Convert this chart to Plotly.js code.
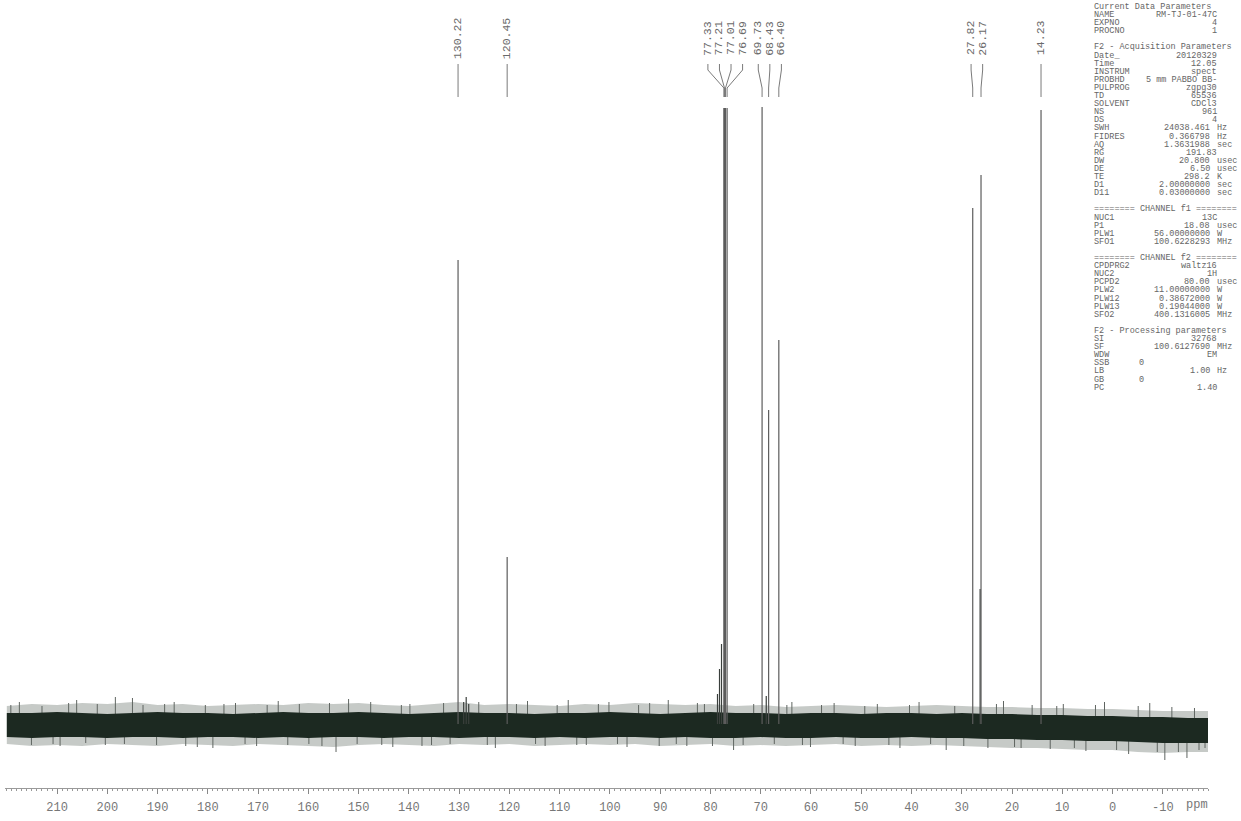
<!DOCTYPE html>
<html><head><meta charset="utf-8">
<script src="https://cdn.plot.ly/plotly-3.0.1.min.js"></script>
<style>html,body{margin:0;padding:0;background:#fff}#chart{width:1241px;height:821px}</style>
</head><body><div id="chart"></div><script>
// ---- peak data (ppm, intensity above baseline, label) ----
const peakPPM    = [130.22, 120.45, 77.33, 77.21, 77.01, 76.69, 69.73, 68.43, 66.40, 27.82, 26.17, 14.23];
const peakHeight = [464, 167, 616, 616, 616, 616, 617, 314, 384, 516, 549, 614];
const peakLabels = ["130.22","120.45","77.33","77.21","77.01","76.69","69.73","68.43","66.40","27.82","26.17","14.23"];

// small unlabelled features near the baseline
const minorPPM    = [129.1, 128.6, 128.1, 78.6, 78.2, 77.8, 26.35, 68.9];
const minorHeight = [22, 27, 20, 30, 55, 80, 135, 28];

// baseline noise envelope (estimated)
const envPPM   = [220,215,210,205,200,195,190,185,180,175,170,165,160,155,150,145,140,135,130,125,120,115,110,105,100,95,90,85,80,75,70,65,60,55,50,45,40,35,30,25,20,15,10,5,0,-5,-10,-15,-20];
const coreUp   = [11,11,12,11,10,11,12,11,11,10,11,12,11,11,12,11,10,11,12,11,11,10,11,11,12,11,10,11,12,11,11,10,11,11,10,11,11,10,11,10,10,9,9,8,8,7,7,6,6];
const coreLo   = [-13,-14,-13,-13,-14,-13,-13,-14,-13,-13,-14,-13,-14,-13,-13,-14,-13,-13,-14,-13,-13,-14,-13,-14,-13,-13,-14,-13,-14,-14,-13,-14,-14,-13,-14,-14,-13,-14,-14,-15,-15,-16,-16,-17,-17,-18,-19,-19,-19];
const fringeUp = [18,20,19,21,20,22,19,20,18,19,20,19,21,20,21,19,18,20,22,19,20,19,18,20,19,21,20,19,20,18,19,17,18,19,18,17,18,19,18,17,17,16,16,15,15,14,13,13,13];
const fringeLo = [-20,-22,-21,-22,-20,-21,-22,-20,-21,-22,-20,-21,-22,-23,-21,-20,-21,-22,-20,-21,-20,-22,-21,-20,-21,-20,-22,-21,-20,-22,-21,-22,-21,-20,-22,-21,-22,-21,-22,-23,-24,-24,-25,-26,-26,-28,-29,-28,-28];

// prominent noise spikes (estimated)
const spikePPM = [219.2,217.5,215.1,213.0,210.8,209.4,207.7,206.1,204.3,202.0,200.4,198.4,196.6,195.0,192.9,190.2,188.6,186.7,184.4,182.1,180.5,179.0,176.8,174.5,172.6,170.3,168.2,166.0,164.1,161.8,159.9,157.3,155.8,154.5,152.0,150.3,147.6,145.4,143.2,141.5,139.8,137.4,135.5,133.1,131.8,126.1,124.4,122.8,118.6,116.4,114.8,112.9,110.5,108.3,106.6,104.7,102.3,100.2,98.5,96.6,94.3,92.1,90.2,88.4,86.8,84.7,82.6,81.2,79.6,75.4,73.5,71.4,67.3,64.8,63.8,61.7,60.1,57.9,55.4,53.6,51.2,49.3,46.8,44.5,42.3,40.4,38.5,36.2,33.1,31.4,29.6,24.8,23.1,21.7,19.5,18.2,16.0,12.4,11.1,9.8,7.6,5.3,3.4,1.6,-0.8,-3.2,-5.1,-7.4,-8.9,-10.4,-11.8,-13.1,-14.8,-16.3,-17.2,-18.4];
const spikeVal = [19,22,-21,18,-20,-22,21,24,-19,20,-21,27,-20,26,19,-21,20,22,-22,-23,19,-24,20,21,-20,-22,19,23,-21,20,-20,-22,21,-28,25,-20,22,-21,-23,19,20,-22,-21,21,-20,22,-21,-24,20,23,-20,-22,19,24,-21,-21,20,22,-20,-23,19,21,-22,24,-20,-22,21,20,-22,-26,-21,20,-20,19,22,-21,-23,19,21,-20,-22,18,20,-21,-24,19,22,-20,-26,18,-22,-24,20,23,-23,-24,19,-25,18,20,-24,-27,19,22,-26,-30,18,21,-28,-36,17,-28,-34,16,-26,-24];

// axis tick labels
const tickValues = [210,200,190,180,170,160,150,140,130,120,110,100,90,80,70,60,50,40,30,20,10,0,-10];
const tickLabels = ["210","200","190","180","170","160","150","140","130","120","110","100","90","80","70","60","50","40","30","20","10","0","-10"];

// acquisition / processing parameter panel
const paramNames  = ["Current Data Parameters","NAME","EXPNO","PROCNO","","F2 - Acquisition Parameters","Date_","Time","INSTRUM","PROBHD","PULPROG","TD","SOLVENT","NS","DS","SWH","FIDRES","AQ","RG","DW","DE","TE","D1","D11","","======== CHANNEL f1 ========","NUC1","P1","PLW1","SFO1","","======== CHANNEL f2 ========","CPDPRG2","NUC2","PCPD2","PLW2","PLW12","PLW13","SFO2","","F2 - Processing parameters","SI","SF","WDW","SSB","LB","GB","PC"];
const paramValues = ["","RM-TJ-01-47C","4","1","","","20120329","12.05","spect","5 mm PABBO BB-","zgpg30","65536","CDCl3","961","4","24038.461","0.366798","1.3631988","191.83","20.800","6.50","298.2","2.00000000","0.03000000","","","13C","18.08","56.00000000","100.6228293","","","waltz16","1H","80.00","11.00000000","0.38672000","0.19044000","400.1316005","","","32768","100.6127690","EM","0","1.00","0","1.40"];
const paramUnits  = ["","","","","","","","","","","","","","","","Hz","Hz","sec","","usec","usec","K","sec","sec","","","","usec","W","MHz","","","","","usec","W","W","W","MHz","","","","MHz","","","Hz","",""];

// ---- geometry helpers ----
const W = 1241, H = 821, ML = 5, MR = 33, MT = 0, MB = 33;
const PW = W - ML - MR, PH = H - MT - MB;
const px2paperX = p => (p - ML) / PW;
const px2paperY = p => (H - MB - p) / PH;

// ---- traces ----
function segs(xs, ys) {
  const X = [], Y = [];
  xs.forEach((x, i) => { X.push(x, x, null); Y.push(0, ys[i], null); });
  return {X, Y};
}
function band(up, lo) {
  const X = envPPM.concat(envPPM.slice().reverse());
  const Y = up.concat(lo.slice().reverse());
  return {X, Y};
}
const fr = band(fringeUp, fringeLo);
const co = band(coreUp, coreLo);
const sp = segs(spikePPM, spikeVal);
const mn = segs(minorPPM, minorHeight);
const pk = segs(peakPPM, peakHeight);

const traces = [
  {x: fr.X, y: fr.Y, type: 'scatter', mode: 'lines', fill: 'toself', fillcolor: 'rgba(120,128,122,0.42)', line: {width: 0}, hoverinfo: 'skip'},
  {x: sp.X, y: sp.Y, type: 'scatter', mode: 'lines', line: {color: '#5f6561', width: 1}, hoverinfo: 'skip'},
  {x: co.X, y: co.Y, type: 'scatter', mode: 'lines', fill: 'toself', fillcolor: '#1c2921', line: {width: 0}, hoverinfo: 'skip'},
  {x: mn.X, y: mn.Y, type: 'scatter', mode: 'lines', line: {color: '#3a3f3c', width: 1.2}, hoverinfo: 'skip'},
  {x: pk.X, y: pk.Y, type: 'scatter', mode: 'lines', line: {color: '#5c5c5c', width: 1.2}, hoverinfo: 'skip'}
];

// ---- label placement (spread overlapping labels) ----
const LABEL_GAP = 2.3; // ppm
function spreadLabels(pos) {
  let groups = pos.map((p, i) => ({idx: [i], c: p}));
  let changed = true;
  while (changed) {
    changed = false;
    for (let g = 0; g < groups.length - 1; g++) {
      const a = groups[g], b = groups[g + 1];
      const aEnd = a.c - (a.idx.length - 1) * LABEL_GAP / 2;
      const bStart = b.c + (b.idx.length - 1) * LABEL_GAP / 2;
      if (aEnd - bStart < LABEL_GAP - 1e-9) {
        const idx = a.idx.concat(b.idx);
        const c = idx.reduce((s, i) => s + pos[i], 0) / idx.length;
        groups.splice(g, 2, {idx, c});
        changed = true;
        break;
      }
    }
  }
  const out = [];
  groups.forEach(g => g.idx.forEach((i, k) => {
    out[i] = g.c + ((g.idx.length - 1) / 2 - k) * LABEL_GAP;
  }));
  return out;
}
const labelPos = spreadLabels(peakPPM);

const annotations = [];
const shapes = [];
const lineCol = '#7a7a7a';
peakPPM.forEach((p, i) => {
  annotations.push({
    x: labelPos[i], xref: 'x', y: px2paperY(38), yref: 'paper',
    text: peakLabels[i], textangle: -90, showarrow: false,
    font: {family: 'Liberation Mono, monospace', size: 11.5, color: '#6a6a6a'},
    xanchor: 'center', yanchor: 'middle'
  });
  const pts = [[labelPos[i], 64], [labelPos[i], 70], [p, 88], [p, 97]];
  for (let k = 0; k < pts.length - 1; k++) {
    shapes.push({type: 'line', xref: 'x', yref: 'paper',
      x0: pts[k][0], y0: px2paperY(pts[k][1]), x1: pts[k + 1][0], y1: px2paperY(pts[k + 1][1]),
      line: {color: lineCol, width: 1}});
  }
});

// ppm unit label
annotations.push({x: px2paperX(1197), xref: 'paper', y: px2paperY(805), yref: 'paper',
  text: 'ppm', showarrow: false, xanchor: 'center', yanchor: 'middle',
  font: {family: 'Liberation Mono, monospace', size: 12, color: '#777'}});

// parameter panel
const pf = {family: 'Liberation Mono, monospace', size: 8.5, color: '#666'};
const ROW0 = 7, ROWH = 8.1;
paramNames.forEach((n, i) => {
  if (!n) return;
  const y = px2paperY(ROW0 + i * ROWH);
  const header = !paramValues[i];
  annotations.push({x: px2paperX(1092), xref: 'paper', y, yref: 'paper', text: n,
    showarrow: false, xanchor: 'left', yanchor: 'middle', font: pf});
  if (header) return;
  const v = paramValues[i], u = paramUnits[i];
  if (n === 'SSB' || n === 'GB') {
    annotations.push({x: px2paperX(1137), xref: 'paper', y, yref: 'paper', text: v,
      showarrow: false, xanchor: 'left', yanchor: 'middle', font: pf});
    return;
  }
  annotations.push({x: px2paperX(u ? 1212 : 1219), xref: 'paper', y, yref: 'paper', text: v,
    showarrow: false, xanchor: 'right', yanchor: 'middle', font: pf});
  if (u) annotations.push({x: px2paperX(1215), xref: 'paper', y, yref: 'paper', text: u,
    showarrow: false, xanchor: 'left', yanchor: 'middle', font: pf});
});

const layout = {
  width: W, height: H,
  margin: {l: ML, r: MR, t: MT, b: MB, pad: 0},
  paper_bgcolor: '#fff', plot_bgcolor: '#fff',
  showlegend: false,
  xaxis: {
    range: [220.36, -18.99], autorange: false,
    tickmode: 'array', tickvals: tickValues, ticktext: tickLabels,
    ticks: 'outside', ticklen: 5, tickwidth: 1, tickcolor: '#888',
    ticklabelstandoff: 3,
    showline: true, linecolor: '#9a9a9a', linewidth: 1,
    showgrid: false, zeroline: false,
    tickfont: {family: 'Liberation Mono, monospace', size: 12, color: '#777'},
    minor: {tickmode: 'linear', tick0: 0, dtick: 1, ticks: 'outside', ticklen: 2, tickcolor: '#999', tickwidth: 1, showgrid: false}
  },
  yaxis: {range: [-64, 724], autorange: false, visible: false, showgrid: false, zeroline: false},
  shapes, annotations
};

Plotly.newPlot('chart', traces, layout, {displayModeBar: false, staticPlot: true});
</script></body></html>
